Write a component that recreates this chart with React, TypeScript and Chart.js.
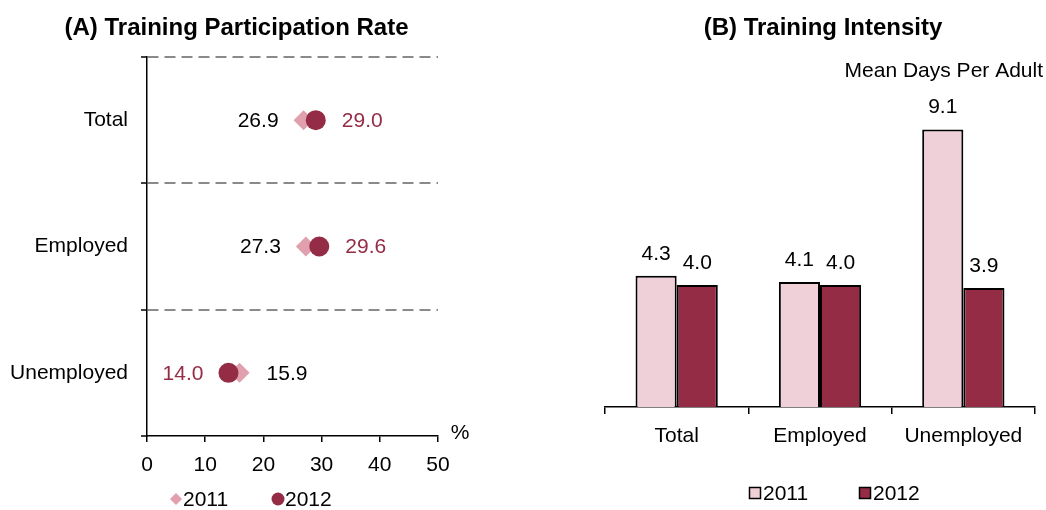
import React, { useEffect, useRef } from 'react';
import { Chart, registerables } from 'chart.js';

Chart.register(...registerables);

const categories = ['Total', 'Employed', 'Unemployed'];
const seriesLabels = ['2011', '2012'];
const rate2011 = [26.9, 27.3, 15.9];
const rate2012 = [29.0, 29.6, 14.0];
const rateTicks = [0, 10, 20, 30, 40, 50];
const intensity2011 = [4.3, 4.1, 9.1];
const intensity2012 = [4.0, 4.0, 3.9];

const FONT = '"Liberation Sans", Arial, sans-serif';
const LIGHT_PINK = '#F0D0D8';
const PINK = '#E0A0AE';
const DARK = '#952C45';

function LeftChart() {
  const ref = useRef<HTMLCanvasElement>(null);
  useEffect(() => {
    const labelPlugin = {
      id: 'leftLabels',
      afterDatasetsDraw(chart: any) {
        const ctx = chart.ctx;
        const m0 = chart.getDatasetMeta(0);
        const m1 = chart.getDatasetMeta(1);
        ctx.save();
        // title
        ctx.font = `bold 24px ${FONT}`;
        ctx.textBaseline = 'middle';
        ctx.textAlign = 'center';
        ctx.fillStyle = '#000';
        ctx.fillText('(A) Training Participation Rate', 236.5, 28);
        ctx.font = `21px ${FONT}`;
        categories.forEach((_, i) => {
          const p0 = m0.data[i];
          const p1 = m1.data[i];
          const v0 = rate2011[i];
          const v1 = rate2012[i];
          const off = 25;
          ctx.fillStyle = '#000';
          if (v0 <= v1) {
            ctx.textAlign = 'right';
            ctx.fillText(v0.toFixed(1), p0.x - off, p0.y + 1);
          } else {
            ctx.textAlign = 'left';
            ctx.fillText(v0.toFixed(1), p0.x + off + 2, p0.y + 1);
          }
          ctx.fillStyle = DARK;
          if (v1 >= v0) {
            ctx.textAlign = 'left';
            ctx.fillText(v1.toFixed(1), p1.x + off + 1, p1.y + 1);
          } else {
            ctx.textAlign = 'right';
            ctx.fillText(v1.toFixed(1), p1.x - off, p1.y + 1);
          }
        });
        ctx.fillStyle = '#000';
        ctx.textAlign = 'center';
        ctx.fillText('%', 460, 433);
        // legend
        ctx.textAlign = 'left';
        ctx.fillStyle = PINK;
        ctx.beginPath();
        ctx.moveTo(176, 493);
        ctx.lineTo(182, 499);
        ctx.lineTo(176, 505);
        ctx.lineTo(170, 499);
        ctx.closePath();
        ctx.fill();
        ctx.fillStyle = '#000';
        ctx.fillText(seriesLabels[0], 183, 500);
        ctx.fillStyle = DARK;
        ctx.beginPath();
        ctx.arc(278, 499, 6.5, 0, Math.PI * 2);
        ctx.fill();
        ctx.fillStyle = '#000';
        ctx.fillText(seriesLabels[1], 285, 500);
        ctx.restore();
      },
    };
    const chart = new Chart(ref.current!, {
      type: 'line',
      data: {
        labels: categories,
        datasets: [
          {
            label: seriesLabels[0],
            data: rate2011,
            showLine: false,
            pointStyle: 'rectRot',
            pointRadius: 10,
            pointBackgroundColor: PINK,
            pointBorderWidth: 0,
            order: 1,
          },
          {
            label: seriesLabels[1],
            data: rate2012,
            showLine: false,
            pointStyle: 'circle',
            pointRadius: 10,
            pointBackgroundColor: DARK,
            pointBorderWidth: 0,
            order: 0,
          },
        ],
      },
      options: {
        responsive: false,
        animation: false,
        indexAxis: 'y',
        layout: { padding: { left: 0, right: 34, top: 57, bottom: 0 } },
        plugins: {
          legend: { display: false },
          tooltip: { enabled: false },
          title: { display: false },
        },
        scales: {
          x: {
            type: 'linear',
            min: rateTicks[0],
            max: rateTicks[rateTicks.length - 1],
            afterBuildTicks: (s: any) => {
              s.ticks = rateTicks.map((v) => ({ value: v }));
            },
            ticks: { color: '#000', font: { family: FONT, size: 21 }, padding: 11 },
            grid: { drawOnChartArea: false, tickLength: 6, color: '#000', tickColor: '#000', lineWidth: 1.5 },
            border: { color: '#000', width: 1.5 },
            afterFit: (s: any) => {
              s.height = 74;
            },
          },
          y: {
            type: 'category',
            offset: true,
            ticks: { color: '#000', font: { family: FONT, size: 21 }, padding: 13 },
            grid: {
              offset: true,
              color: (c: any) => (c.type === 'tick' ? '#8a8a8a' : 'rgba(0,0,0,0)'),
              tickColor: '#000',
              tickLength: 6,
              tickBorderDash: [],
              tickWidth: 1.5,
              lineWidth: 2,
            },
            border: { color: '#000', width: 1.5, dash: [11, 6] },
            afterFit: (s: any) => {
              s.width = 147;
            },
          },
        },
      } as any,
      plugins: [labelPlugin],
    });
    return () => chart.destroy();
  }, []);
  return <canvas ref={ref} width={472} height={510} style={{ position: 'absolute', left: 0, top: 0 }} />;
}

function RightChart() {
  const ref = useRef<HTMLCanvasElement>(null);
  useEffect(() => {
    const labelPlugin = {
      id: 'rightLabels',
      afterDatasetsDraw(chart: any) {
        const ctx = chart.ctx;
        ctx.save();
        ctx.font = `bold 24px ${FONT}`;
        ctx.textBaseline = 'middle';
        ctx.textAlign = 'center';
        ctx.fillStyle = '#000';
        ctx.fillText('(B) Training Intensity', 223, 28);
        ctx.font = `21px ${FONT}`;
        [intensity2011, intensity2012].forEach((vals, d) => {
          const meta = chart.getDatasetMeta(d);
          vals.forEach((v, i) => {
            const bar = meta.data[i];
            ctx.fillText(v.toFixed(1), bar.x, bar.y - 22);
          });
        });
        ctx.textAlign = 'right';
        ctx.fillText('Mean Days Per Adult', 443, 71);
        // legend
        ctx.textAlign = 'left';
        ctx.lineWidth = 1.5;
        ctx.strokeStyle = '#000';
        ctx.fillStyle = LIGHT_PINK;
        ctx.fillRect(149.5, 487.5, 11, 11);
        ctx.strokeRect(149.5, 487.5, 11, 11);
        ctx.fillStyle = '#000';
        ctx.fillText(seriesLabels[0], 163, 494);
        ctx.fillStyle = DARK;
        ctx.fillRect(259.5, 487.5, 11, 11);
        ctx.strokeRect(259.5, 487.5, 11, 11);
        ctx.fillStyle = '#000';
        ctx.fillText(seriesLabels[1], 273, 494);
        ctx.restore();
      },
    };
    const chart = new Chart(ref.current!, {
      type: 'bar',
      data: {
        labels: categories,
        datasets: [
          {
            label: seriesLabels[0],
            data: intensity2011,
            backgroundColor: LIGHT_PINK,
            borderColor: '#000',
            borderWidth: 2,
            categoryPercentage: 0.574,
            barPercentage: 1,
          },
          {
            label: seriesLabels[1],
            data: intensity2012,
            backgroundColor: DARK,
            borderColor: '#000',
            borderWidth: 2,
            categoryPercentage: 0.574,
            barPercentage: 1,
          },
        ],
      },
      options: {
        responsive: false,
        animation: false,
        layout: { padding: { left: 5, right: 11, top: 102, bottom: 0 } },
        plugins: {
          legend: { display: false },
          tooltip: { enabled: false },
          title: { display: false },
        },
        scales: {
          x: {
            ticks: { color: '#000', font: { family: FONT, size: 21 }, padding: 10 },
            grid: { offset: true, drawOnChartArea: false, tickLength: 7, color: '#000', tickColor: '#000', lineWidth: 1.5 },
            border: { color: '#000', width: 1.5 },
            afterFit: (s: any) => {
              s.height = 103;
            },
          },
          y: {
            display: false,
            min: 0,
            max: 10,
          },
        },
      } as any,
      plugins: [labelPlugin],
    });
    return () => chart.destroy();
  }, []);
  return <canvas ref={ref} width={446} height={510} style={{ position: 'absolute', left: 600, top: 0 }} />;
}

export default function App() {
  return (
    <div style={{ position: 'absolute', left: 0, top: 0, width: 1046, height: 510, background: '#fff' }}>
      <LeftChart />
      <RightChart />
    </div>
  );
}
